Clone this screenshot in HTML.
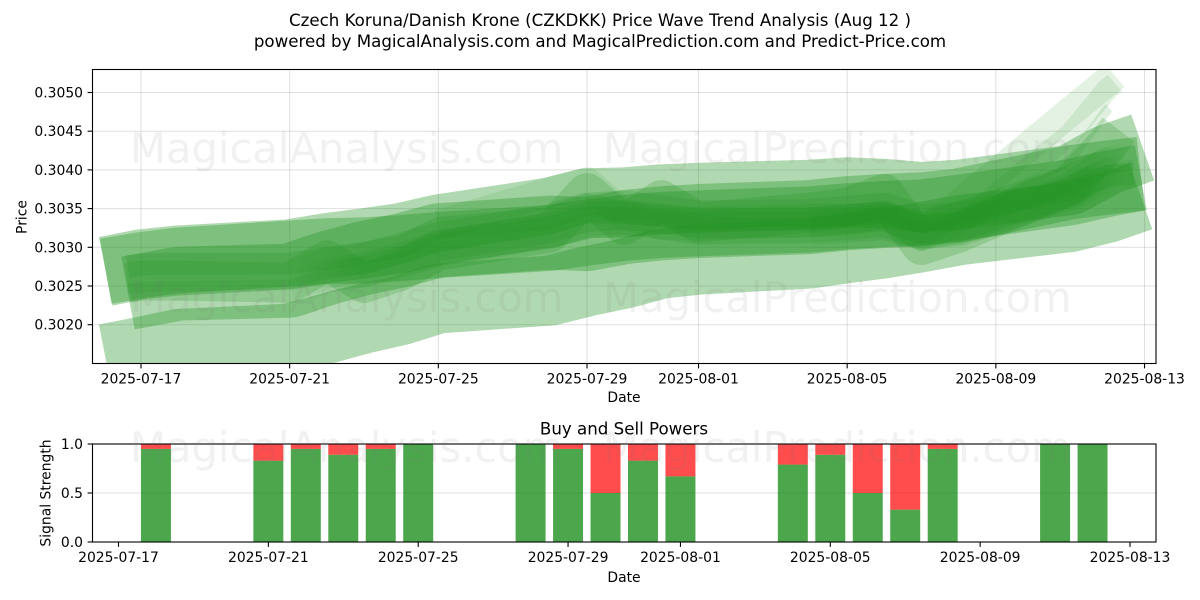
<!DOCTYPE html>
<html lang="en">
<head>
<meta charset="utf-8">
<title>Czech Koruna/Danish Krone Price Wave Trend Analysis</title>
<style>
html,body{margin:0;padding:0;background:#fff;width:1200px;height:600px;overflow:hidden}
svg{display:block}
text{font-family:"DejaVu Sans","Liberation Sans",sans-serif;fill:#000}
</style>
</head>
<body>
<svg id="chart" xmlns="http://www.w3.org/2000/svg" width="1200" height="600" viewBox="0 0 1200 600">
  <defs>
    <clipPath id="priceClip"><rect x="92.5" y="69.5" width="1063.5" height="294"/></clipPath>
    <clipPath id="powerClip"><rect x="92.5" y="444" width="1063.5" height="98"/></clipPath>
    <linearGradient id="coreFade" gradientUnits="userSpaceOnUse" x1="285" y1="0" x2="1125" y2="0">
      <stop offset="0" stop-color="#209220" stop-opacity="0"/>
      <stop offset=".09" stop-color="#209220" stop-opacity="1"/>
      <stop offset=".95" stop-color="#209220" stop-opacity="1"/>
      <stop offset="1" stop-color="#209220" stop-opacity="0"/>
    </linearGradient>
    <linearGradient id="lateFade" gradientUnits="userSpaceOnUse" x1="790" y1="0" x2="1125" y2="0">
      <stop offset="0" stop-color="#209220" stop-opacity="0"/>
      <stop offset=".2" stop-color="#209220" stop-opacity="1"/>
      <stop offset=".87" stop-color="#209220" stop-opacity="1"/>
      <stop offset="1" stop-color="#209220" stop-opacity="0"/>
    </linearGradient>
  </defs>
  <rect width="1200" height="600" fill="#fff"/>
  <text x="600" y="26" font-size="16.67" text-anchor="middle">Czech Koruna/Danish Krone (CZKDKK) Price Wave Trend Analysis (Aug 12 )</text>
  <text x="600" y="47" font-size="16.67" text-anchor="middle">powered by MagicalAnalysis.com and MagicalPrediction.com and Predict-Price.com</text>
  <g id="priceGrid"></g>
  <g id="bands" clip-path="url(#priceClip)"></g>
  <g id="priceAxis"></g>
  <text x="624" y="402" font-size="13.9" text-anchor="middle">Date</text>
  <text x="0" y="0" font-size="13.9" text-anchor="middle" transform="translate(26.5,217) rotate(-90)">Price</text>
  <text x="624" y="434.5" font-size="16.67" text-anchor="middle">Buy and Sell Powers</text>
  <g id="powerGrid"></g>
  <g id="bars" clip-path="url(#powerClip)"></g>
  <g id="powerAxis"></g>
  <text x="624" y="582" font-size="13.9" text-anchor="middle">Date</text>
  <text x="0" y="0" font-size="13.9" text-anchor="middle" transform="translate(50.5,493) rotate(-90)">Signal Strength</text>
  <g style="pointer-events:none">
    <text x="130" y="163" style="fill:#777;fill-opacity:.1" font-size="41.67">MagicalAnalysis.com</text>
    <text x="603" y="163" style="fill:#777;fill-opacity:.1" font-size="41.67">MagicalPrediction.com</text>
    <text x="130" y="312" style="fill:#777;fill-opacity:.1" font-size="41.67">MagicalAnalysis.com</text>
    <text x="603" y="312" style="fill:#777;fill-opacity:.1" font-size="41.67">MagicalPrediction.com</text>
    <text x="130" y="462" style="fill:#777;fill-opacity:.1" font-size="41.67">MagicalAnalysis.com</text>
    <text x="603" y="462" style="fill:#777;fill-opacity:.1" font-size="41.67">MagicalPrediction.com</text>
  </g>
</svg>
<script>
// ---- chart data ----
const xTickLabels = ['2025-07-17','2025-07-21','2025-07-25','2025-07-29','2025-08-01','2025-08-05','2025-08-09','2025-08-13'];
const priceTickLabels = ['0.3020','0.3025','0.3030','0.3035','0.3040','0.3045','0.3050'];
const powerTickLabels = ['0.0','0.5','1.0'];

const waveDates = ['2025-07-16','2025-07-17','2025-07-18','2025-07-21','2025-07-22','2025-07-23','2025-07-24','2025-07-25','2025-07-28','2025-07-29','2025-07-30','2025-07-31','2025-08-01','2025-08-04','2025-08-05','2025-08-06','2025-08-07','2025-08-08','2025-08-11','2025-08-12','2025-08-13'];

const waveLower = [.30156,.30165,.30175,.30182,.30195,.30208,.30219,.30234,.30244,.30256,.30266,.30279,.30284,.30292,.30299,.30305,.30313,.30322,.30339,.30351,.30366];
const waveUpper = [.30269,.30278,.30283,.30291,.30299,.30305,.30312,.30323,.30345,.30357,.30358,.30362,.30364,.30368,.30371,.30369,.30365,.30368,.30387,.30413,.30429];
const waveUpperMid = [.30269,.30277,.30283,.30292,.30295,.30296,.30299,.30303,.30312,.30319,.30325,.30329,.30331,.30336,.30340,.30343,.30345,.30351,.30371,.30382,.30390];
const waveMiddle = [.30241,.30244,.30253,.30257,.30273,.30286,.30296,.30309,.30319,.30317,.30326,.30331,.30334,.30339,.30344,.30347,.30349,.30354,.30384,.30390,.30395];
const waveNarrowHigh = [.30275,.30278,.30279,.30279,.30286,.30293,.30301,.30325,.30338,.30355,.30345,.30340,.30338,.30342,.30342,.30344,.30332,.30345,.30374,.30392,.30395];
const waveThin = [.30247,.30248,.30250,.30252,.30267,.30273,.30286,.30301,.30322,.30338,.30343,.30338,.30332,.30332,.30336,.30340,.30327,.30330,.30377,.30400,.30407];
const waveCoreA = [null,null,null,.30253,.30270,.30277,.30290,.30304,.30327,.30342,.30345,.30339,.30332,.30334,.30338,.30342,.30327,.30330,.30377,.30400,.30407];
const waveCoreB = [null,null,null,.30249,.30266,.30274,.30287,.30301,.30325,.30339,.30342,.30337,.30331,.30332,.30336,.30340,.30324,.30327,.30373,.30396,.30404];
const waveCoreC = [null,null,null,.30253,.30270,.30277,.30290,.30305,.30329,.30342,.30342,.30338,.30333,.30335,.30340,.30345,.30329,.30332,.30380,.30405,.30410];
const waveFast = [.30254,.30257,.30257,.30254,.30283,.30254,.30270,.30296,.30319,.30370,.30329,.30361,.30332,.30345,.30351,.30369,.30303,.30319,.30381,.30433,.30452];
const waveFastLow = [null,null,null,null,null,null,null,null,null,null,null,null,null,.30325,.30329,.30332,.30319,.30327,.30374,.30407,.30410];
const wavePaleA = [null,null,null,null,null,null,null,.30329,.30371,.30384,.30342,.30329,.30329,.30332,.30335,.30342,.30316,.30355,.30475,.30514,.30522];
const wavePaleB = [null,null,null,null,null,null,null,null,null,null,null,null,null,.30329,.30332,.30338,.30309,.30329,.30446,.30504,.30512];
const wavePaleC = [null,null,null,null,null,null,null,null,null,null,null,null,null,null,null,null,null,.30332,.30413,.30478,.30480];

const waveSeries = [waveLower, waveUpper, waveUpperMid, waveMiddle, waveNarrowHigh, waveThin, waveCoreA, waveCoreB, waveCoreC, waveFast, waveFastLow, wavePaleA, wavePaleB, wavePaleC];
const waveThickness = [70, 70, 66, 74, 22, 10, 44, 30, 18, 40, 35, 30, 22, 10];
const waveOpacity = [.35, .35, .35, .35, .2, .15, .2, .2, .2, .22, .18, .12, .12, .14];
const waveStroke = ['#209220','#209220','#209220','#209220','#209220','#209220','url(#coreFade)','url(#coreFade)','url(#coreFade)','#209220','url(#lateFade)','#209220','#209220','#209220'];
const waveStartShift = [.05, .05, .05, .65, .65, .65, 0, 0, 0, .65, 0, 0, 0, 0];
const waveEndShift = [-.1, -.05, -.1, -.1, -.3, -.3, -.3, -.3, -.3, -.7, -.3, -.8, -.8, -.95];

const barDates = ['2025-07-18','2025-07-21','2025-07-22','2025-07-23','2025-07-24','2025-07-25','2025-07-28','2025-07-29','2025-07-30','2025-07-31','2025-08-01','2025-08-04','2025-08-05','2025-08-06','2025-08-07','2025-08-08','2025-08-11','2025-08-12'];
const buyPower = [.95,.83,.95,.89,.95,1,1,.95,.5,.83,.67,.79,.89,.5,.33,.95,1,1];
const sellPower = [.05,.17,.05,.11,.05,0,0,.05,.5,.17,.33,.21,.11,.5,.67,.05,0,0];

// ---- axis functions ----
const SVGNS = 'http://www.w3.org/2000/svg';
const dayOf = d => (Date.parse(d + 'T00:00:00Z') - Date.UTC(2025, 6, 17)) / 86400000;
const xPrice = day => 141 + day * 37.167;
const xPower = day => 118.5 + day * 37.463;
const yPrice = p => 247.3 - (p - 0.303) * 77400;
const yPower = v => 542 - v * 98;
const AX = {l: 92.5, r: 1156};

function make(tag, parent, attrs) {
  const el = document.createElementNS(SVGNS, tag);
  for (const k in attrs) el.setAttribute(k, attrs[k]);
  parent.appendChild(el);
  return el;
}

// ---- top panel grid ----
const priceGrid = document.getElementById('priceGrid');
xTickLabels.forEach(lbl => {
  const x = xPrice(dayOf(lbl));
  const el = make('line', priceGrid, {x1: x, x2: x, y1: 69.5, y2: 363.5, stroke: '#b0b0b0', 'stroke-width': 1, 'stroke-opacity': .4});
  
  
});
priceTickLabels.forEach(lbl => {
  const y = yPrice(parseFloat(lbl));
  const el = make('line', priceGrid, {x1: AX.l, x2: AX.r, y1: y, y2: y, stroke: '#b0b0b0', 'stroke-width': 1, 'stroke-opacity': .4});
  
  
});

// ---- wave bands ----
const bandsGroup = document.getElementById('bands');
waveSeries.forEach((series, i) => {
  const pts = [];
  series.forEach((p, k) => {
    if (p === null) return;
    let day = dayOf(waveDates[k]);
    if (k === 0) day += waveStartShift[i];
    if (k === series.length - 1) day += waveEndShift[i];
    pts.push(xPrice(day).toFixed(1) + ',' + yPrice(p).toFixed(1));
  });
  const el = make('polyline', bandsGroup, {
    points: pts.join(' '), fill: 'none', stroke: waveStroke[i],
    'stroke-width': waveThickness[i], 'stroke-opacity': waveOpacity[i],
    'stroke-linecap': 'butt', 'stroke-linejoin': 'round'
  });
  
  
});

// ---- top panel axes ----
const priceAxis = document.getElementById('priceAxis');
const priceFrame = make('rect', priceAxis, {x: AX.l, y: 69.5, width: AX.r - AX.l, height: 294, fill: 'none', stroke: '#000', 'stroke-width': 1.1});


xTickLabels.forEach(lbl => {
  const x = xPrice(dayOf(lbl));
  const t = make('line', priceAxis, {x1: x, x2: x, y1: 363.5, y2: 368.4, stroke: '#000', 'stroke-width': 1.1});
  
  
  const s = make('text', priceAxis, {x: x, y: 383.5, 'font-size': 13.9, 'text-anchor': 'middle'});
  
  
  s.textContent = lbl;
});
priceTickLabels.forEach(lbl => {
  const y = yPrice(parseFloat(lbl));
  const t = make('line', priceAxis, {x1: 87.6, x2: AX.l, y1: y, y2: y, stroke: '#000', 'stroke-width': 1.1});
  
  
  const s = make('text', priceAxis, {x: 83, y: y + 5, 'font-size': 13.9, 'text-anchor': 'end'});
  
  
  s.textContent = lbl;
});

// ---- bottom panel ----
const powerGrid = document.getElementById('powerGrid');
powerTickLabels.forEach(lbl => {
  const y = yPower(parseFloat(lbl));
  const el = make('line', powerGrid, {x1: AX.l, x2: AX.r, y1: y, y2: y, stroke: '#b0b0b0', 'stroke-width': 1, 'stroke-opacity': .4});
  
  
});
const barsGroup = document.getElementById('bars');
barDates.forEach((d, i) => {
  const c = xPower(dayOf(d));
  const w = 0.8 * 37.463;
  const g = make('rect', barsGroup, {x: c - w / 2, y: yPower(buyPower[i]), width: w, height: yPower(0) - yPower(buyPower[i]), fill: '#008000', 'fill-opacity': .7});
  
  
  const r = make('rect', barsGroup, {x: c - w / 2, y: yPower(buyPower[i] + sellPower[i]), width: w, height: yPower(buyPower[i]) - yPower(buyPower[i] + sellPower[i]), fill: '#ff0000', 'fill-opacity': .7});
  
  
});
const powerAxis = document.getElementById('powerAxis');
const powerFrame = make('rect', powerAxis, {x: AX.l, y: 444, width: AX.r - AX.l, height: 98, fill: 'none', stroke: '#000', 'stroke-width': 1.1});


xTickLabels.forEach(lbl => {
  const x = xPower(dayOf(lbl));
  const t = make('line', powerAxis, {x1: x, x2: x, y1: 542, y2: 546.9, stroke: '#000', 'stroke-width': 1.1});
  
  
  const s = make('text', powerAxis, {x: x, y: 562, 'font-size': 13.9, 'text-anchor': 'middle'});
  
  
  s.textContent = lbl;
});
powerTickLabels.forEach(lbl => {
  const y = yPower(parseFloat(lbl));
  const t = make('line', powerAxis, {x1: 87.6, x2: AX.l, y1: y, y2: y, stroke: '#000', 'stroke-width': 1.1});
  
  
  const s = make('text', powerAxis, {x: 83, y: y + 5, 'font-size': 13.9, 'text-anchor': 'end'});
  
  
  s.textContent = lbl;
});
</script>
</body>
</html>
